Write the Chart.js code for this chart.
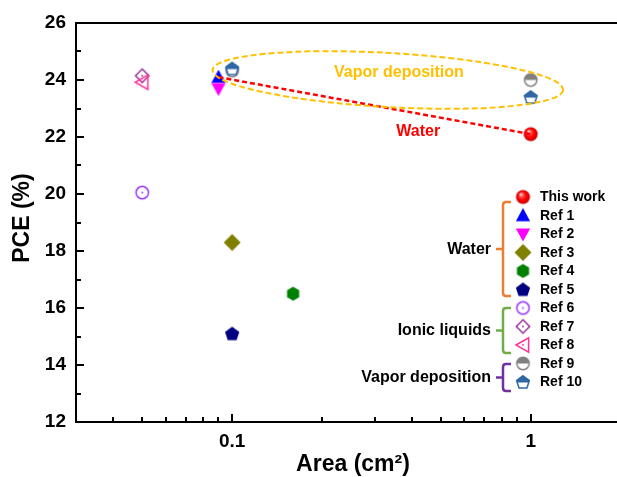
<!DOCTYPE html>
<html><head><meta charset="utf-8">
<script src="https://cdn.jsdelivr.net/npm/chart.js@4.4.1/dist/chart.umd.min.js"></script>
<style>
html,body{margin:0;padding:0;background:#fff;overflow:hidden;width:617px;height:477px}
#wrap{width:617px;height:477px;overflow:hidden;position:relative}
canvas{display:block}
</style></head>
<body><div id="wrap"><canvas id="c" width="617" height="477" style="width:617px;height:477px"></canvas></div>
<script>
// ---------- data ----------
const seriesLabels = ['This work','Ref 1','Ref 2','Ref 3','Ref 4','Ref 5','Ref 6','Ref 7','Ref 8','Ref 9','Ref 10'];
const seriesArea = [[1],[0.09],[0.09],[0.1],[0.16],[0.1],[0.05],[0.05],[0.05],[0.1,1],[0.1,1]];
const seriesPCE  = [[22.1],[24.1],[23.7],[18.3],[16.5],[15.1],[20.05],[24.15],[23.92],[24.33,24.0],[24.4,23.4]];
const waterTrendArea = [0.09, 1];
const waterTrendPCE  = [24.1, 22.1];
const yTickValues = [12,14,16,18,20,22,24,26];
const xTickValues = [0.1, 1];
const xTickLabels = ['0.1','1'];
const groupNames = ['Water','Ionic liquids','Vapor deposition'];
const groupFirst = [1, 6, 9];
const groupLast  = [5, 8, 10];
// dashed ellipse around vapor-deposition points (tips in data coords)
const ellipseTipArea = [0.086, 1.284];
const ellipseTipPCE  = [24.35, 23.65];
const ellipseHalfHeightPCE = 0.95;
const noteTexts = ['Vapor deposition','Water'];
const noteArea  = [0.362, 0.42];
const notePCE   = [24.25, 22.2];

// ---------- styles ----------
const FONT = '"Liberation Sans", Arial, Helvetica, sans-serif';
const markerKinds  = ['sphere','triUp','triDown','diamond','hexagon','pentagon','circleOpen','diamondOpen','triLeftOpen','halfCircle','halfPentagon'];
const markerColors = ['#ff0000','#0000ff','#ff00ff','#808000','#008000','#000080','#9933ff','#993399','#ff3399','#808080','#2f66a3'];
const markerSizes  = [7,7.5,7.5,8.5,7,7.5,7,7.5,7.5,7,7.5];
const groupColors  = ['#ed7d31','#70ad47','#7030a0'];
const groupSpans   = [[202,296],[308,353],[364,391]];

function polyPts(cx, cy, r, n, start){
  const p=[]; for(let k=0;k<n;k++){const a=start+k*2*Math.PI/n; p.push([cx+r*Math.cos(a), cy+r*Math.sin(a)]);} return p;
}
function pathPts(ctx, pts){ ctx.beginPath(); pts.forEach((p,i)=> i?ctx.lineTo(p[0],p[1]):ctx.moveTo(p[0],p[1])); ctx.closePath(); }
function makeMarker(kind, color, r){
  const s = Math.ceil(2*r+5); const c=document.createElement('canvas'); c.width=s; c.height=s;
  const ctx=c.getContext('2d'); const cx=s/2, cy=s/2;
  ctx.fillStyle=color; ctx.strokeStyle=color; ctx.lineJoin='miter';
  const dot=()=>{ctx.beginPath(); ctx.arc(cx,cy,0.9,0,2*Math.PI); ctx.fill();};
  switch(kind){
    case 'sphere': {
      const g=ctx.createRadialGradient(cx-r*0.3,cy-r*0.4,r*0.05,cx,cy,r);
      g.addColorStop(0,'#ffffff'); g.addColorStop(0.25,'#ff5050'); g.addColorStop(0.6,'#ff0000'); g.addColorStop(1,'#c80000');
      ctx.fillStyle=g; ctx.beginPath(); ctx.arc(cx,cy,r,0,2*Math.PI); ctx.fill(); break; }
    case 'triUp': pathPts(ctx,[[cx,cy-r],[cx+r*0.95,cy+r*0.75],[cx-r*0.95,cy+r*0.75]]); ctx.fill(); break;
    case 'triDown': pathPts(ctx,[[cx,cy+r],[cx+r*0.95,cy-r*0.75],[cx-r*0.95,cy-r*0.75]]); ctx.fill(); break;
    case 'diamond': pathPts(ctx,[[cx,cy-r],[cx+r,cy],[cx,cy+r],[cx-r,cy]]); ctx.fill(); break;
    case 'hexagon': pathPts(ctx,polyPts(cx,cy,r,6,-Math.PI/2)); ctx.fill(); break;
    case 'pentagon': pathPts(ctx,polyPts(cx,cy+0.5,r,5,-Math.PI/2)); ctx.fill(); break;
    case 'circleOpen': ctx.lineWidth=1.5; ctx.beginPath(); ctx.arc(cx,cy,r-0.8,0,2*Math.PI); ctx.stroke(); dot(); break;
    case 'diamondOpen': ctx.lineWidth=1.5; pathPts(ctx,[[cx,cy-r+0.8],[cx+r-0.8,cy],[cx,cy+r-0.8],[cx-r+0.8,cy]]); ctx.stroke(); dot(); break;
    case 'triLeftOpen': ctx.lineWidth=1.5; pathPts(ctx,[[cx-r+0.5,cy],[cx+r*0.75,cy-r*0.95],[cx+r*0.75,cy+r*0.95]]); ctx.stroke(); dot(); break;
    case 'halfCircle': {
      ctx.fillStyle='#fff'; ctx.beginPath(); ctx.arc(cx,cy,r-0.8,0,2*Math.PI); ctx.fill();
      ctx.fillStyle=color; ctx.beginPath(); ctx.arc(cx,cy,r-0.8,Math.PI,2*Math.PI); ctx.closePath(); ctx.fill();
      ctx.lineWidth=1.5; ctx.beginPath(); ctx.arc(cx,cy,r-0.8,0,2*Math.PI); ctx.stroke(); break; }
    case 'halfPentagon': {
      const pts=polyPts(cx,cy+0.5,r-0.8,5,-Math.PI/2);
      ctx.fillStyle='#fff'; pathPts(ctx,pts); ctx.fill();
      ctx.save(); ctx.beginPath(); ctx.rect(0,0,s,cy+0.5); ctx.clip(); ctx.fillStyle=color; pathPts(ctx,pts); ctx.fill(); ctx.restore();
      ctx.lineWidth=1.5; pathPts(ctx,pts); ctx.stroke(); break; }
  }
  return c;
}
const markerImgs = markerKinds.map((k,i)=>makeMarker(k, markerColors[i], markerSizes[i]));

const N = seriesLabels.length;
const datasets = seriesLabels.map((lab,i)=>({
  type:'scatter', label:lab,
  data: seriesArea[i].map((x,j)=>({x:x, y:seriesPCE[i][j]})),
  pointStyle: markerImgs[i], pointRadius: markerSizes[i], pointHoverRadius: markerSizes[i],
  order: N - i + 1
}));
datasets.push({
  type:'line', label:'water trend',
  data: waterTrendArea.map((x,j)=>({x:x, y:waterTrendPCE[j]})),
  borderColor:'#ff0000', borderWidth:2.5, borderDash:[5,3], pointRadius:0, fill:false, order:0
});

const decorPlugin = {
  id:'decor',
  afterDatasetsDraw(chart){
    const ctx=chart.ctx, xs=chart.scales.x, ys=chart.scales.y;
    ctx.save();
    const x1=xs.getPixelForValue(ellipseTipArea[0]), y1=ys.getPixelForValue(ellipseTipPCE[0]);
    const x2=xs.getPixelForValue(ellipseTipArea[1]), y2=ys.getPixelForValue(ellipseTipPCE[1]);
    const ecx=(x1+x2)/2, ecy=(y1+y2)/2, ea=Math.hypot(x2-x1,y2-y1)/2, ang=Math.atan2(y2-y1,x2-x1);
    const eb=Math.abs(ys.getPixelForValue(0)-ys.getPixelForValue(ellipseHalfHeightPCE));
    ctx.strokeStyle='#ffc000'; ctx.lineWidth=2; ctx.setLineDash([6,3]);
    ctx.beginPath(); ctx.ellipse(ecx,ecy,ea,eb,ang,0,2*Math.PI); ctx.stroke();
    ctx.setLineDash([]);
    ctx.font='bold 16px '+FONT; ctx.textAlign='center'; ctx.textBaseline='middle';
    const noteColors=['#ffc000','#ff0000'];
    noteTexts.forEach((t,i)=>{ ctx.fillStyle=noteColors[i]; ctx.fillText(t, xs.getPixelForValue(noteArea[i]), ys.getPixelForValue(notePCE[i])); });
    ctx.restore();
  },
  afterDraw(chart){
    const ctx=chart.ctx, xs=chart.scales.x, ys=chart.scales.y, a=chart.chartArea;
    ctx.save();
    ctx.strokeStyle='#000'; ctx.lineWidth=2; ctx.lineCap='butt';
    ctx.beginPath();
    ctx.moveTo(a.left, a.top); ctx.lineTo(a.left, a.bottom+1);
    ctx.moveTo(a.left-1, a.bottom); ctx.lineTo(chart.width, a.bottom);
    ctx.moveTo(a.left-1, a.top); ctx.lineTo(chart.width, a.top);
    ctx.stroke();
    ctx.beginPath();
    for(let v=13; v<26; v++){ const y=Math.round(ys.getPixelForValue(v)); const L=(v%2===0)?8:5; ctx.moveTo(a.left,y); ctx.lineTo(a.left+L,y); }
    const xMinor=[0.04,0.05,0.06,0.07,0.08,0.09,0.2,0.3,0.4,0.5,0.6,0.7,0.8,0.9];
    xMinor.forEach(v=>{const x=Math.round(xs.getPixelForValue(v)); ctx.moveTo(x,a.bottom); ctx.lineTo(x,a.bottom-5);});
    xTickValues.forEach(v=>{const x=Math.round(xs.getPixelForValue(v)); ctx.moveTo(x,a.bottom); ctx.lineTo(x,a.bottom-8);});
    ctx.stroke();
    ctx.fillStyle='#000'; ctx.font='bold 23px '+FONT; ctx.textAlign='center'; ctx.textBaseline='middle';
    ctx.fillText('Area (cm\u00B2)', 353, 465);
    ctx.save(); ctx.translate(23, 218); ctx.rotate(-Math.PI/2); ctx.fillText('PCE (%)', 0, 0); ctx.restore();
    const lx=523, ly0=197, dy=18.5;
    ctx.font='bold 14px '+FONT; ctx.textAlign='left'; ctx.textBaseline='middle';
    seriesLabels.forEach((lab,i)=>{
      const y=ly0+i*dy, img=markerImgs[i];
      ctx.drawImage(img, lx-img.width/2, y-img.height/2);
      ctx.fillStyle='#000'; ctx.fillText(lab, 540, y+0.5);
    });
    const bx=503;
    groupNames.forEach((g,i)=>{
      const [t,b]=groupSpans[i], m=(t+b)/2;
      ctx.strokeStyle=groupColors[i]; ctx.lineWidth=2.5;
      ctx.beginPath();
      ctx.moveTo(bx+8,t); ctx.lineTo(bx+3,t); ctx.quadraticCurveTo(bx,t,bx,t+3);
      ctx.lineTo(bx,b-3); ctx.quadraticCurveTo(bx,b,bx+3,b); ctx.lineTo(bx+8,b);
      ctx.moveTo(bx,m); ctx.lineTo(bx-7,m);
      ctx.stroke();
      ctx.fillStyle='#000'; ctx.font='bold 16px '+FONT; ctx.textAlign='right';
      ctx.fillText(g, bx-12, m+0.5);
    });
    ctx.restore();
  }
};

new Chart(document.getElementById('c'), {
  data:{ datasets },
  options:{
    responsive:false, animation:false, devicePixelRatio:1,
    layout:{ autoPadding:false, padding:{ top:23, right:1, left:0, bottom:0 } },
    plugins:{ legend:{display:false}, tooltip:{enabled:false} },
    scales:{
      x:{ type:'logarithmic', min:0.03, max:1.93, bounds:'data',
        grid:{display:false, drawTicks:false}, border:{display:false},
        afterBuildTicks(s){ s.ticks = xTickValues.map(v=>({value:v})); },
        afterFit(s){ s.height=55; s.paddingLeft=0; s.paddingRight=0; },
        ticks:{ padding:8, color:'#000', font:{family:FONT, size:19, weight:'bold'}, maxRotation:0,
          autoSkip:false, callback:(v)=>{ const i=xTickValues.indexOf(v); return i>=0?xTickLabels[i]:''; } }
      },
      y:{ type:'linear', min:12, max:26,
        grid:{display:false, drawTicks:false}, border:{display:false},
        afterBuildTicks(s){ s.ticks = yTickValues.map(v=>({value:v})); },
        afterFit(s){ s.width=76; s.paddingTop=0; s.paddingBottom=0; },
        ticks:{ padding:10, color:'#000', font:{family:FONT, size:19, weight:'bold'} }
      }
    }
  },
  plugins:[decorPlugin]
});
</script>
</body></html>
